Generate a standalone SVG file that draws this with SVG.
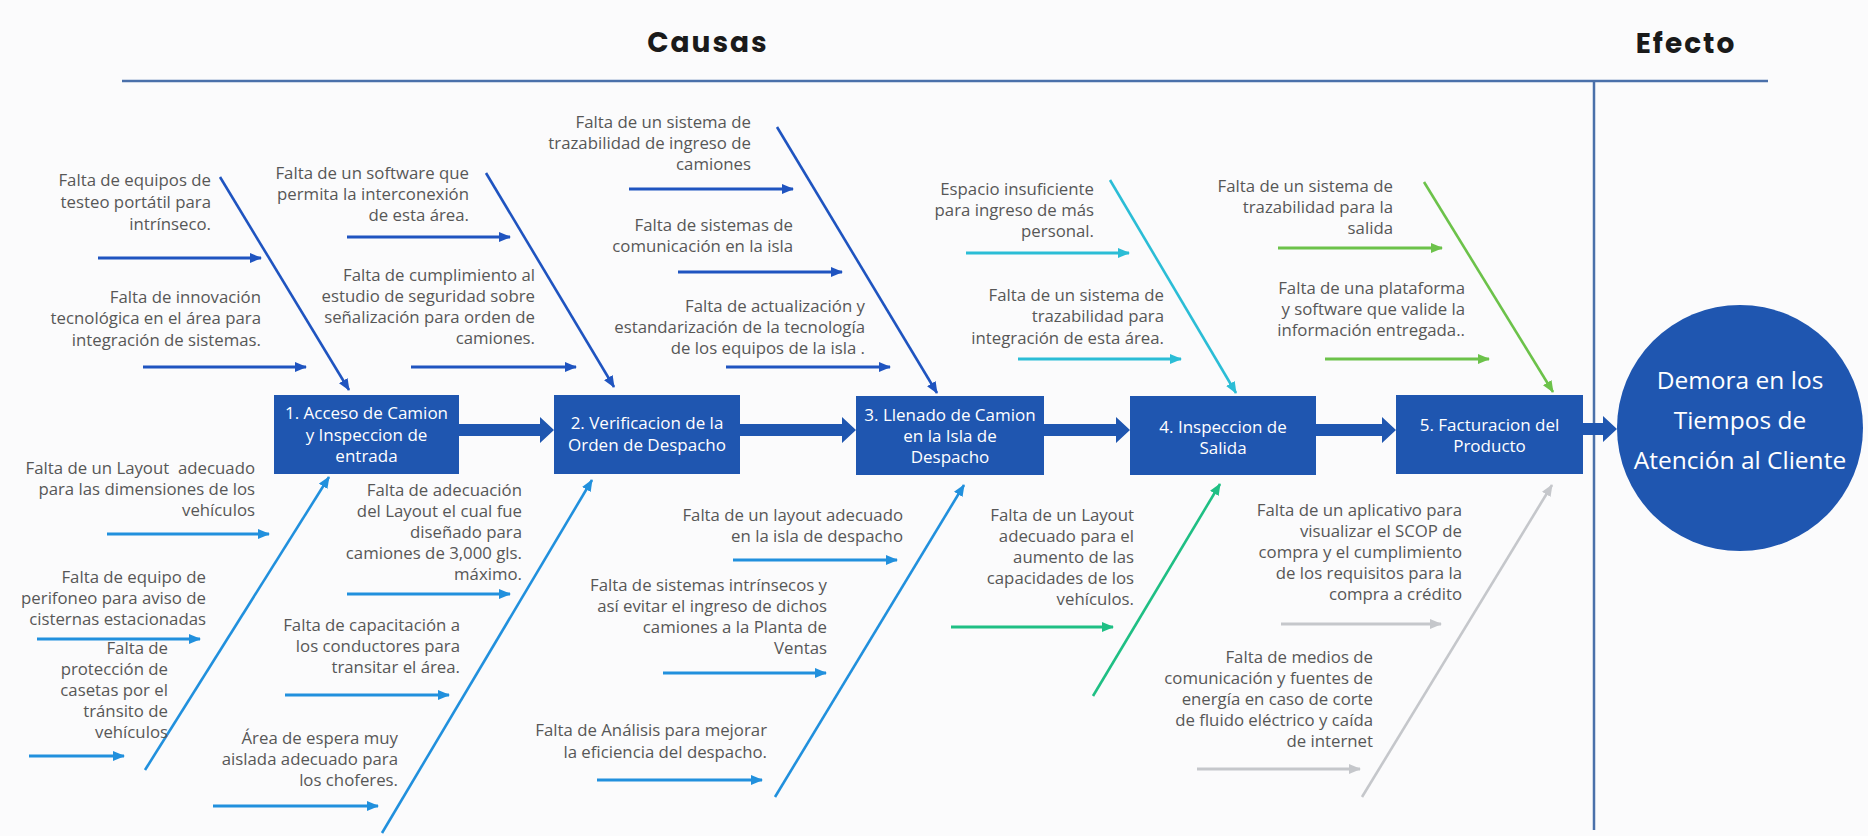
<svg xmlns="http://www.w3.org/2000/svg" width="1868" height="836" viewBox="0 0 1868 836">
<defs>
<style>
.t{font-family:"Open Sans","Noto Sans","Liberation Sans",sans-serif;font-size:16.8px;fill:#575757;text-anchor:end}
.bx{font-family:"Open Sans","Noto Sans","Liberation Sans",sans-serif;font-size:17px;fill:#ffffff;text-anchor:middle}
.hd{font-family:"Poppins","Inter","Noto Sans","Liberation Sans",sans-serif;font-size:28px;font-weight:700;fill:#1a1a1a;text-anchor:middle;letter-spacing:2px}
.box{fill:#1f56b0}
.big{fill:#1f56b0}
.ln{fill:none;stroke-width:3}
.dg{fill:none;stroke-width:2.6}
.dk{stroke:#1f54c0}
.lb{stroke:#2190dd}
.cy{stroke:#2bbdd6}
.gr{stroke:#6cc24a}
.tg{stroke:#1fbf84}
.gy{stroke:#c5c7cb}
</style>
<marker id="mdk" viewBox="0 0 12 10" refX="11" refY="5" markerWidth="12" markerHeight="10" markerUnits="userSpaceOnUse" orient="auto"><path d="M0,0 L12,5 L0,10 z" fill="#1f54c0"/></marker>
<marker id="mlb" viewBox="0 0 12 10" refX="11" refY="5" markerWidth="12" markerHeight="10" markerUnits="userSpaceOnUse" orient="auto"><path d="M0,0 L12,5 L0,10 z" fill="#2190dd"/></marker>
<marker id="mcy" viewBox="0 0 12 10" refX="11" refY="5" markerWidth="12" markerHeight="10" markerUnits="userSpaceOnUse" orient="auto"><path d="M0,0 L12,5 L0,10 z" fill="#2bbdd6"/></marker>
<marker id="mgr" viewBox="0 0 12 10" refX="11" refY="5" markerWidth="12" markerHeight="10" markerUnits="userSpaceOnUse" orient="auto"><path d="M0,0 L12,5 L0,10 z" fill="#6cc24a"/></marker>
<marker id="mtg" viewBox="0 0 12 10" refX="11" refY="5" markerWidth="12" markerHeight="10" markerUnits="userSpaceOnUse" orient="auto"><path d="M0,0 L12,5 L0,10 z" fill="#1fbf84"/></marker>
<marker id="mgy" viewBox="0 0 12 10" refX="11" refY="5" markerWidth="12" markerHeight="10" markerUnits="userSpaceOnUse" orient="auto"><path d="M0,0 L12,5 L0,10 z" fill="#c5c7cb"/></marker>
</defs>
<rect x="0" y="0" width="1868" height="836" fill="#fbfbfc"/>

<g id="header">
<text class="hd" x="708" y="52">Causas</text>
<text class="hd" x="1686" y="53">Efecto</text>
<line x1="122" y1="81" x2="1768" y2="81" stroke="#4a70aa" stroke-width="2.5"/>
<line x1="1594" y1="81" x2="1594" y2="830" stroke="#4a70aa" stroke-width="2.5"/>
</g>

<g id="connectors">
<path class="big" d="M459,424 H540 V417 L554,430 L540,443 V436 H459 Z"/>
<path class="big" d="M740,424 H842 V417 L856,430 L842,443 V436 H740 Z"/>
<path class="big" d="M1044,424 H1116 V417 L1130,430 L1116,443 V436 H1044 Z"/>
<path class="big" d="M1316,424 H1382 V417 L1396,430 L1382,443 V436 H1316 Z"/>
<path class="big" d="M1583,423 H1603 V416 L1617,429 L1603,442 V435 H1583 Z"/>
<line class="dg dk" x1="220" y1="177" x2="349" y2="390" marker-end="url(#mdk)"/>
<line class="dg dk" x1="486" y1="173" x2="614" y2="387" marker-end="url(#mdk)"/>
<line class="dg dk" x1="777" y1="127" x2="937" y2="393" marker-end="url(#mdk)"/>
<line class="dg cy" x1="1110" y1="180" x2="1236" y2="393" marker-end="url(#mcy)"/>
<line class="dg gr" x1="1424" y1="182" x2="1553" y2="392" marker-end="url(#mgr)"/>
<line class="dg lb" x1="145" y1="770" x2="329" y2="477" marker-end="url(#mlb)"/>
<line class="dg lb" x1="382" y1="833" x2="592" y2="480" marker-end="url(#mlb)"/>
<line class="dg lb" x1="775" y1="797" x2="964" y2="485" marker-end="url(#mlb)"/>
<line class="dg tg" x1="1093" y1="696" x2="1220" y2="484" marker-end="url(#mtg)"/>
<line class="dg gy" x1="1362" y1="797" x2="1552" y2="485" marker-end="url(#mgy)"/>
<line class="ln dk" x1="98" y1="258" x2="261" y2="258" marker-end="url(#mdk)"/>
<line class="ln dk" x1="143" y1="367" x2="306" y2="367" marker-end="url(#mdk)"/>
<line class="ln dk" x1="347" y1="237" x2="510" y2="237" marker-end="url(#mdk)"/>
<line class="ln dk" x1="411" y1="367" x2="576" y2="367" marker-end="url(#mdk)"/>
<line class="ln dk" x1="629" y1="189" x2="793" y2="189" marker-end="url(#mdk)"/>
<line class="ln dk" x1="678" y1="272" x2="842" y2="272" marker-end="url(#mdk)"/>
<line class="ln dk" x1="726" y1="367" x2="890" y2="367" marker-end="url(#mdk)"/>
<line class="ln cy" x1="966" y1="253" x2="1129" y2="253" marker-end="url(#mcy)"/>
<line class="ln cy" x1="1018" y1="359" x2="1181" y2="359" marker-end="url(#mcy)"/>
<line class="ln gr" x1="1278" y1="248" x2="1442" y2="248" marker-end="url(#mgr)"/>
<line class="ln gr" x1="1325" y1="359" x2="1489" y2="359" marker-end="url(#mgr)"/>
<line class="ln lb" x1="107" y1="534" x2="269" y2="534" marker-end="url(#mlb)"/>
<line class="ln lb" x1="37" y1="639" x2="200" y2="639" marker-end="url(#mlb)"/>
<line class="ln lb" x1="29" y1="756" x2="124" y2="756" marker-end="url(#mlb)"/>
<line class="ln lb" x1="347" y1="594" x2="510" y2="594" marker-end="url(#mlb)"/>
<line class="ln lb" x1="285" y1="695" x2="449" y2="695" marker-end="url(#mlb)"/>
<line class="ln lb" x1="213" y1="806" x2="378" y2="806" marker-end="url(#mlb)"/>
<line class="ln lb" x1="733" y1="560" x2="897" y2="560" marker-end="url(#mlb)"/>
<line class="ln lb" x1="663" y1="673" x2="826" y2="673" marker-end="url(#mlb)"/>
<line class="ln lb" x1="597" y1="780" x2="762" y2="780" marker-end="url(#mlb)"/>
<line class="ln tg" x1="951" y1="627" x2="1113" y2="627" marker-end="url(#mtg)"/>
<line class="ln gy" x1="1281" y1="624" x2="1441" y2="624" marker-end="url(#mgy)"/>
<line class="ln gy" x1="1197" y1="769" x2="1360" y2="769" marker-end="url(#mgy)"/>
</g>

<g id="box1"><rect class="box" x="274" y="395" width="185" height="79"/>
<text class="bx" x="366.5" y="419">1. Acceso de Camion</text><text class="bx" x="366.5" y="441">y Inspeccion de</text><text class="bx" x="366.5" y="462">entrada</text></g>
<g id="box2"><rect class="box" x="554" y="395" width="186" height="79"/>
<text class="bx" x="647" y="429">2. Verificacion de la</text><text class="bx" x="647" y="451">Orden de Despacho</text></g>
<g id="box3"><rect class="box" x="856" y="396" width="188" height="79"/>
<text class="bx" x="950" y="421">3. Llenado de Camion</text><text class="bx" x="950" y="442">en la Isla de</text><text class="bx" x="950" y="463">Despacho</text></g>
<g id="box4"><rect class="box" x="1130" y="396" width="186" height="79"/>
<text class="bx" x="1223" y="433">4. Inspeccion de</text><text class="bx" x="1223" y="454">Salida</text></g>
<g id="box5"><rect class="box" x="1396" y="395" width="187" height="79"/>
<text class="bx" x="1489.5" y="431">5. Facturacion del</text><text class="bx" x="1489.5" y="452">Producto</text></g>

<g id="effect"><circle cx="1740" cy="428" r="123" fill="#1f56b0"/>
<text class="bx" style="font-size:24.5px" x="1740" y="389">Demora en los</text>
<text class="bx" style="font-size:24.5px" x="1740" y="429">Tiempos de</text>
<text class="bx" style="font-size:24.5px" x="1740" y="469">Atención al Cliente</text></g>

<g id="c1"><text class="t" x="211" y="186">Falta de equipos de</text><text class="t" x="211" y="208">testeo portátil para</text><text class="t" x="211" y="230">intrínseco.</text></g>
<g id="c2"><text class="t" x="261" y="303">Falta de innovación</text><text class="t" x="261" y="324">tecnológica en el área para</text><text class="t" x="261" y="346">integración de sistemas.</text></g>
<g id="c3"><text class="t" x="469" y="179">Falta de un software que</text><text class="t" x="469" y="200">permita la interconexión</text><text class="t" x="469" y="221">de esta área.</text></g>
<g id="c4"><text class="t" x="535" y="281">Falta de cumplimiento al</text><text class="t" x="535" y="302">estudio de seguridad sobre</text><text class="t" x="535" y="323">señalización para orden de</text><text class="t" x="535" y="344">camiones.</text></g>
<g id="c5"><text class="t" x="751" y="128">Falta de un sistema de</text><text class="t" x="751" y="149">trazabilidad de ingreso de</text><text class="t" x="751" y="170">camiones</text></g>
<g id="c6"><text class="t" x="793" y="231">Falta de sistemas de</text><text class="t" x="793" y="252">comunicación en la isla</text></g>
<g id="c7"><text class="t" x="865" y="312">Falta de actualización y</text><text class="t" x="865" y="333">estandarización de la tecnología</text><text class="t" x="865" y="354">de los equipos de la isla .</text></g>
<g id="c8"><text class="t" x="1094" y="195">Espacio insuficiente</text><text class="t" x="1094" y="216">para ingreso de más</text><text class="t" x="1094" y="237">personal.</text></g>
<g id="c9"><text class="t" x="1164" y="301">Falta de un sistema de</text><text class="t" x="1164" y="322">trazabilidad para</text><text class="t" x="1164" y="344">integración de esta área.</text></g>
<g id="c10"><text class="t" x="1393" y="192">Falta de un sistema de</text><text class="t" x="1393" y="213">trazabilidad para la</text><text class="t" x="1393" y="234">salida</text></g>
<g id="c11"><text class="t" x="1465" y="294">Falta de una plataforma</text><text class="t" x="1465" y="315">y software que valide la</text><text class="t" x="1465" y="336">información entregada..</text></g>

<g id="c12"><text class="t" x="255" y="474" xml:space="preserve">Falta de un Layout  adecuado</text><text class="t" x="255" y="495">para las dimensiones de los</text><text class="t" x="255" y="516">vehículos</text></g>
<g id="c13"><text class="t" x="206" y="583">Falta de equipo de</text><text class="t" x="206" y="604">perifoneo para aviso de</text><text class="t" x="206" y="625">cisternas estacionadas</text></g>
<g id="c14"><text class="t" x="168" y="654">Falta de</text><text class="t" x="168" y="675">protección de</text><text class="t" x="168" y="696">casetas por el</text><text class="t" x="168" y="717">tránsito de</text><text class="t" x="168" y="738">vehículos</text></g>
<g id="c15"><text class="t" x="522" y="496">Falta de adecuación</text><text class="t" x="522" y="517">del Layout el cual fue</text><text class="t" x="522" y="538">diseñado para</text><text class="t" x="522" y="559">camiones de 3,000 gls.</text><text class="t" x="522" y="580">máximo.</text></g>
<g id="c16"><text class="t" x="460" y="631">Falta de capacitación a</text><text class="t" x="460" y="652">los conductores para</text><text class="t" x="460" y="673">transitar el área.</text></g>
<g id="c17"><text class="t" x="398" y="744">Área de espera muy</text><text class="t" x="398" y="765">aislada adecuado para</text><text class="t" x="398" y="786">los choferes.</text></g>
<g id="c18"><text class="t" x="903" y="521">Falta de un layout adecuado</text><text class="t" x="903" y="542">en la isla de despacho</text></g>
<g id="c19"><text class="t" x="827" y="591">Falta de sistemas intrínsecos y</text><text class="t" x="827" y="612">así evitar el ingreso de dichos</text><text class="t" x="827" y="633">camiones a la Planta de</text><text class="t" x="827" y="654">Ventas</text></g>
<g id="c20"><text class="t" x="767" y="736">Falta de Análisis para mejorar</text><text class="t" x="767" y="758">la eficiencia del despacho.</text></g>
<g id="c21"><text class="t" x="1134" y="521">Falta de un Layout</text><text class="t" x="1134" y="542">adecuado para el</text><text class="t" x="1134" y="563">aumento de las</text><text class="t" x="1134" y="584">capacidades de los</text><text class="t" x="1134" y="605">vehículos.</text></g>
<g id="c22"><text class="t" x="1462" y="516">Falta de un aplicativo para</text><text class="t" x="1462" y="537">visualizar el SCOP de</text><text class="t" x="1462" y="558">compra y el cumplimiento</text><text class="t" x="1462" y="579">de los requisitos para la</text><text class="t" x="1462" y="600">compra a crédito</text></g>
<g id="c23"><text class="t" x="1373" y="663">Falta de medios de</text><text class="t" x="1373" y="684">comunicación y fuentes de</text><text class="t" x="1373" y="705">energía en caso de corte</text><text class="t" x="1373" y="726">de fluido eléctrico y caída</text><text class="t" x="1373" y="747">de internet</text></g>
</svg>
